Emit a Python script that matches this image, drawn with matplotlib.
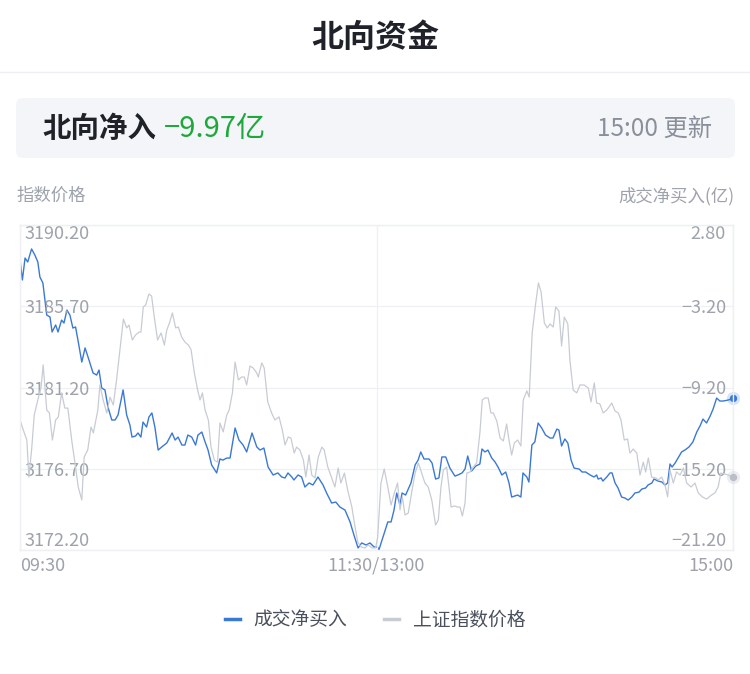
import matplotlib
matplotlib.use('Agg')
import matplotlib.pyplot as plt
from matplotlib.lines import Line2D
from matplotlib.patches import FancyBboxPatch

plt.rcParams['font.family'] = ['Noto Sans CJK SC', 'DejaVu Sans']
plt.rcParams['axes.unicode_minus'] = True

# minutes since 09:30 (trading minutes, 11:30/13:00 = 120, 15:00 = 240)
flow_t = [0.0, 0.8, 1.7, 2.6, 3.9, 5.0, 6.0, 6.7, 7.7, 9.0, 10.1, 10.8, 12.0, 12.8, 14.0, 14.8,
          15.8, 16.8, 17.8, 18.7, 19.5, 20.8, 21.9, 22.9, 24.6, 25.8, 26.6, 27.5, 28.6, 29.6, 30.9,
          32.0, 33.0, 34.7, 35.9, 37.0, 37.7, 38.9, 39.7, 40.7, 41.4, 42.6, 43.4, 44.4, 45.4, 46.5,
          47.7, 49.4, 51.2, 52.2, 53.2, 54.5, 55.5, 56.5, 57.8, 59.1, 59.9, 61.2, 62.3, 63.3, 64.5,
          66.2, 67.3, 68.3, 69.6, 70.7, 72.4, 73.7, 75.1, 76.3, 78.1, 79.7, 80.8, 82.1, 83.5, 85.2,
          86.8, 88.1, 89.2, 90.2, 91.5, 92.2, 93.6, 94.8, 95.9, 97.3, 98.6, 100.3, 102.0, 103.2,
          104.9, 106.3, 107.7, 109.4, 111.1, 112.4, 113.8, 115.0, 116.5, 117.8, 119.2, 120.4, 120.8,
          122.2, 123.8, 124.9, 125.9, 126.8, 127.9, 128.6, 129.8, 131.6, 133.0, 134.0, 134.9, 136.0,
          137.7, 138.7, 139.9, 141.0, 142.0, 143.3, 144.7, 146.4, 147.4, 148.8, 149.8, 150.7, 152.0,
          153.4, 154.8, 155.5, 156.5, 157.5, 158.8, 159.9, 160.9, 162.2, 163.5, 164.6, 165.5, 166.6,
          167.5, 168.6, 169.3, 170.6, 171.3, 172.3, 173.3, 174.4, 175.6, 176.9, 178.4, 179.4, 180.7,
          181.4, 182.3, 183.4, 184.4, 185.5, 186.5, 188.2, 189.2, 190.4, 191.9, 193.2, 194.1, 194.6,
          195.6, 196.2, 197.5, 198.6, 199.3, 200.3, 201.3, 202.5, 203.6, 204.7, 205.9, 207.0, 208.4,
          209.3, 210.6, 211.4, 212.7, 213.4, 214.8, 216.1, 217.1, 218.0, 218.8, 219.5, 220.5, 221.5,
          222.7, 223.8, 225.2, 226.5, 227.8, 228.9, 229.9, 231.1, 232.3, 233.3, 234.5, 235.6, 236.6,
          237.9, 239.6, 240.0]
flow_v = [0.22, -1.26, 0.36, 0.07, 1.03, 0.58, 0.07, -1.04, -1.48, -3.85, -3.99, -5.10, -4.58,
          -5.10, -4.22, -4.44, -3.48, -3.85, -4.81, -4.73, -5.69, -7.32, -6.28, -6.95, -8.13, -8.28,
          -7.91, -9.24, -9.38, -10.64, -11.60, -11.60, -11.23, -9.38, -11.23, -11.97, -12.86, -12.78,
          -12.56, -12.86, -11.75, -12.12, -11.38, -11.08, -12.12, -13.82, -13.59, -13.30, -12.56,
          -13.08, -12.86, -13.45, -13.45, -12.71, -12.86, -13.45, -12.71, -12.49, -13.22, -13.82,
          -14.92, -15.51, -14.48, -14.56, -14.41, -14.41, -12.19, -13.08, -13.45, -13.96, -12.56,
          -13.59, -13.82, -13.67, -15.07, -15.66, -15.51, -15.81, -15.88, -15.51, -15.81, -16.03,
          -15.66, -15.81, -16.55, -16.25, -16.40, -15.81, -16.40, -16.99, -17.73, -17.66, -18.03,
          -18.25, -19.13, -20.09, -21.05, -20.68, -20.83, -20.68, -20.98, -20.98, -21.20, -20.24,
          -19.13, -19.13, -18.25, -16.99, -17.88, -16.99, -17.14, -16.25, -14.92, -14.56, -13.96,
          -14.48, -14.48, -14.78, -15.96, -15.88, -14.33, -14.33, -15.15, -15.74, -15.66, -15.51,
          -15.22, -14.26, -15.37, -15.00, -14.85, -13.74, -13.96, -13.82, -14.41, -14.70, -15.07,
          -15.66, -15.44, -16.25, -17.29, -17.21, -17.14, -17.29, -15.51, -15.81, -16.18, -13.45,
          -13.22, -11.82, -12.19, -12.71, -12.93, -12.93, -12.27, -12.34, -13.52, -13.00, -13.30,
          -14.56, -15.15, -15.22, -15.44, -15.44, -15.66, -15.81, -15.66, -15.96, -15.88, -16.11,
          -15.81, -15.51, -15.51, -16.25, -16.62, -17.29, -17.36, -17.51, -17.29, -16.99, -16.92,
          -16.70, -16.62, -16.40, -16.25, -15.96, -16.11, -16.18, -16.40, -16.25, -14.85, -15.07,
          -14.78, -14.41, -13.96, -13.82, -13.59, -13.22, -12.49, -12.04, -11.53, -11.82, -11.31,
          -10.79, -9.98, -10.20, -10.20, -10.15, -10.05, -9.97]

index_t = [0.0, 1.1, 2.3, 3.0, 3.9, 4.8, 6.0, 7.1, 7.8, 9.0, 9.9, 10.9, 12.0, 12.9, 14.0, 15.1,
           16.1, 17.4, 18.5, 19.6, 20.8, 21.6, 22.8, 23.9, 24.7, 26.2, 26.9, 28.0, 29.2, 30.3, 31.4,
           32.5, 33.7, 34.8, 35.9, 36.7, 37.8, 38.9, 40.1, 40.7, 41.5, 42.3, 43.4, 44.3, 45.2, 46.3,
           47.5, 48.6, 49.4, 50.3, 51.3, 52.4, 53.3, 54.4, 55.5, 56.7, 57.6, 58.7, 59.8, 60.6, 61.4,
           62.3, 63.4, 64.3, 65.4, 66.5, 67.3, 68.4, 69.6, 70.4, 71.5, 72.4, 73.5, 74.6, 75.5, 76.3,
           77.4, 78.5, 79.7, 80.2, 81.4, 82.2, 83.4, 84.7, 85.8, 87.2, 88.3, 89.2, 90.3, 91.2, 92.3,
           93.1, 94.2, 95.4, 96.2, 97.3, 98.2, 99.3, 100.4, 101.6, 102.4, 103.6, 104.9, 106.0, 107.1,
           108.0, 109.2, 110.3, 111.7, 112.8, 113.7, 114.8, 116.1, 117.2, 118.6, 119.7, 120.4, 121.5,
           122.6, 123.8, 124.9, 126.0, 127.1, 127.9, 128.7, 129.6, 130.7, 131.8, 133.0, 134.1, 135.2,
           136.3, 137.4, 138.6, 139.9, 140.8, 141.7, 142.5, 143.6, 144.4, 145.1, 146.2, 147.3, 148.1,
           148.9, 149.8, 150.4, 151.5, 152.6, 153.7, 154.8, 155.6, 156.5, 157.6, 158.5, 159.3, 160.5,
           161.6, 162.7, 163.8, 164.6, 165.5, 166.4, 167.5, 168.6, 169.4, 170.6, 171.4, 172.4, 173.6,
           174.5, 175.4, 176.5, 177.5, 178.4, 179.5, 180.3, 181.4, 182.3, 183.2, 184.4, 185.1, 186.2,
           187.4, 188.5, 189.9, 191.3, 192.2, 193.3, 194.1, 195.2, 196.3, 197.5, 199.2, 200.3, 201.4,
           202.3, 203.4, 204.5, 205.3, 206.4, 207.6, 208.7, 209.8, 210.6, 211.5, 212.6, 214.0, 214.8,
           216.0, 217.1, 218.0, 218.8, 219.9, 221.0, 222.2, 223.3, 224.4, 225.9, 227.2, 228.3, 229.7,
           231.1, 232.8, 233.9, 235.0, 235.9, 237.3, 238.4, 239.6, 240.0]
index_v = [3179.40, 3178.85, 3178.29, 3176.24, 3177.74, 3179.68, 3180.51, 3181.23, 3182.45, 3179.95,
           3179.79, 3178.29, 3179.40, 3179.57, 3180.90, 3180.06, 3180.06, 3178.29, 3177.02, 3175.69,
           3174.97, 3177.35, 3177.74, 3179.01, 3178.68, 3179.95, 3181.34, 3180.51, 3179.79, 3180.67,
           3180.23, 3181.62, 3183.39, 3184.99, 3184.50, 3184.66, 3183.83, 3184.11, 3184.27, 3184.27,
           3185.66, 3185.77, 3186.38, 3186.27, 3185.10, 3183.83, 3184.22, 3183.55, 3184.38, 3184.77,
           3185.33, 3184.50, 3184.55, 3184.00, 3183.72, 3183.55, 3183.28, 3182.00, 3181.06, 3180.51,
           3180.90, 3179.95, 3179.40, 3177.90, 3177.18, 3177.07, 3179.23, 3178.74, 3179.68, 3179.95,
           3180.90, 3182.61, 3181.62, 3181.78, 3181.78, 3181.34, 3182.39, 3182.28, 3182.00, 3181.78,
           3182.56, 3182.28, 3180.40, 3179.79, 3179.40, 3179.57, 3178.85, 3178.02, 3178.46, 3178.40,
           3177.57, 3177.90, 3177.74, 3177.18, 3176.24, 3177.46, 3176.35, 3176.19, 3177.35, 3177.90,
           3177.74, 3176.80, 3176.19, 3175.69, 3176.74, 3175.91, 3176.46, 3175.52, 3174.58, 3173.47,
           3172.64, 3172.37, 3172.31, 3172.48, 3172.31, 3172.31, 3172.92, 3175.91, 3176.69, 3175.69,
           3174.69, 3175.36, 3175.91, 3174.42, 3175.14, 3174.14, 3174.25, 3175.36, 3176.46, 3177.02,
           3176.46, 3175.91, 3175.69, 3174.97, 3173.58, 3173.86, 3175.69, 3176.63, 3176.80, 3175.69,
           3174.58, 3174.64, 3174.58, 3174.58, 3174.08, 3174.80, 3176.46, 3176.52, 3176.80, 3177.02,
           3178.68, 3180.51, 3180.62, 3180.62, 3179.79, 3179.79, 3179.34, 3178.40, 3178.24, 3179.18,
           3178.29, 3177.46, 3178.13, 3178.29, 3177.96, 3180.51, 3181.01, 3180.67, 3184.22, 3185.88,
           3186.99, 3186.49, 3184.77, 3184.50, 3184.72, 3184.55, 3185.66, 3185.44, 3183.50, 3185.10,
           3184.72, 3182.72, 3181.06, 3180.90, 3181.34, 3181.34, 3181.17, 3180.40, 3181.45, 3180.34,
           3180.29, 3179.79, 3179.95, 3180.34, 3179.90, 3179.79, 3179.40, 3178.29, 3178.35, 3177.57,
           3177.79, 3177.57, 3176.35, 3177.07, 3176.52, 3177.30, 3176.24, 3176.19, 3176.08, 3176.24,
           3175.80, 3175.14, 3176.63, 3175.91, 3176.52, 3176.35, 3176.74, 3175.91, 3175.69, 3175.91,
           3175.36, 3175.14, 3175.02, 3175.25, 3175.36, 3175.69, 3176.46, 3176.41, 3176.35, 3176.24,
           3176.24]

left_ticks = [3172.20, 3176.70, 3181.20, 3185.70, 3190.20]
right_ticks = [-21.20, -15.20, -9.20, -3.20, 2.80]
x_ticks = [0, 120, 240]
x_labels = ['09:30', '11:30/13:00', '15:00']

BLUE = '#3a78d6'
GREY = '#c7ccd4'
GRID = '#eef0f3'
TICK = '#9da2ab'

fig = plt.figure(figsize=(7.5, 6.74), dpi=100)

# header
fig.text(0.5, 1 - 38 / 674, '北向资金', ha='center', va='center', fontsize=23,
         fontweight='bold', color='#1f2329')
fig.add_artist(Line2D([0, 1], [1 - 72 / 674] * 2, color='#eceef1', lw=1))
box = FancyBboxPatch((0.16, (674 - 158) / 100), 7.19, 0.60,
                     boxstyle='round,pad=0,rounding_size=0.07',
                     transform=fig.dpi_scale_trans, facecolor='#f4f5f8', edgecolor='none')
fig.add_artist(box)
yb = 1 - 129 / 674
fig.text(42 / 750, yb, '北向净入', ha='left', va='center', fontsize=20.5,
         fontweight='semibold', color='#1f2329')
fig.text(164 / 750, yb, '−9.97亿', ha='left', va='center', fontsize=21, color='#1ea83c')
fig.text(712 / 750, yb, '15:00 更新', ha='right', va='center', fontsize=17.5, color='#8a909b')
fig.text(16 / 750, 1 - 196 / 674, '指数价格', ha='left', va='center', fontsize=12.5, color=TICK)
fig.text(735 / 750, 1 - 196 / 674, '成交净买入(亿)', ha='right', va='center', fontsize=12.5, color=TICK)

# chart
ax = fig.add_axes([20 / 750, 1 - 550 / 674, 713 / 750, 325 / 674])
ax2 = ax.twinx()
ax.plot(index_t, index_v, color=GREY, lw=0.9, zorder=2)
ax2.plot(flow_t, flow_v, color=BLUE, lw=1.0, zorder=3)
ax.scatter([index_t[-1]], [index_v[-1]], s=90, color=GREY, alpha=0.35, clip_on=False, zorder=4, lw=0)
ax.scatter([index_t[-1]], [index_v[-1]], s=28, color='#b9bec7', clip_on=False, zorder=5, lw=0)
ax2.scatter([flow_t[-1]], [flow_v[-1]], s=90, color=BLUE, alpha=0.2, clip_on=False, zorder=4, lw=0)
ax2.scatter([flow_t[-1]], [flow_v[-1]], s=28, color=BLUE, clip_on=False, zorder=5, lw=0)

ax.set_xlim(0, 240)
ax.set_ylim(3172.20, 3190.20)
ax2.set_ylim(-21.20, 2.80)
ax.set_zorder(ax2.get_zorder() + 1)
ax.patch.set_visible(False)

ax.set_yticks(left_ticks)
ax.set_yticklabels([f'{v:.2f}' for v in left_ticks])
ax2.set_yticks(right_ticks)
ax2.set_yticklabels([f'{v:.2f}'.replace('-', '−') for v in right_ticks])
ax.set_xticks(x_ticks)
ax.set_xticklabels(x_labels)

ax.tick_params(axis='y', length=0, pad=-3, labelsize=13, labelcolor=TICK)
ax2.tick_params(axis='y', length=0, pad=-5, labelsize=13, labelcolor=TICK)
ax.tick_params(axis='x', length=0, pad=5, labelsize=13, labelcolor=TICK)
for lab in ax.get_yticklabels():
    lab.set_ha('left')
for lab in ax2.get_yticklabels():
    lab.set_ha('right')
for a in (ax, ax2):
    labs = a.get_yticklabels()
    labs[0].set_va('bottom')
    labs[-1].set_va('top')
xl = ax.get_xticklabels()
xl[0].set_ha('left')
xl[-1].set_ha('right')

# horizontal grid on the lower (right-axis) axes so it stays under every label
ax2.set_axisbelow(True)
ax2.grid(True, axis='y', color=GRID, lw=0.9)
ax.grid(True, axis='x', color=GRID, lw=0.9)
for a in (ax, ax2):
    for s in a.spines.values():
        s.set_color(GRID)
        s.set_linewidth(0.9)

handles = [Line2D([], [], color=BLUE, lw=2.5), Line2D([], [], color=GREY, lw=2.5)]
fig.legend(handles, ['成交净买入', '上证指数价格'], loc='center', bbox_to_anchor=(0.5, 1 - 620 / 674),
           ncol=2, frameon=False, fontsize=13.5, handlelength=0.8, handletextpad=0.7,
           columnspacing=2.0, labelcolor='#4a505c')

fig.savefig('out.png', dpi=100)
